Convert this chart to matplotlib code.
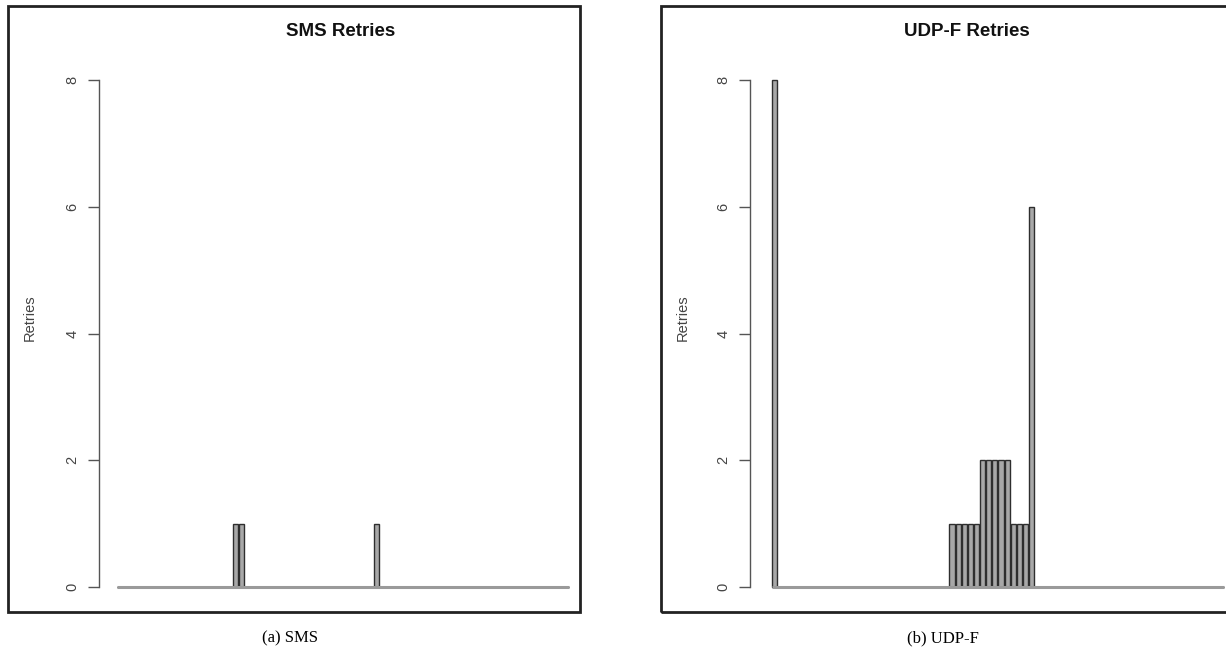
import numpy as np
import matplotlib
matplotlib.use("Agg")
import matplotlib.pyplot as plt
from matplotlib.patches import Rectangle

# retries per message, one bar each (74 messages per protocol)
n_msgs = 74
sms_idx = [19, 20, 42]
sms_val = [1, 1, 1]
udpf_idx = [0, 29, 30, 31, 32, 33, 34, 35, 36, 37, 38, 39, 40, 41, 42]
udpf_val = [8, 1, 1, 1, 1, 1, 2, 2, 2, 2, 2, 1, 1, 1, 6]

sms_retries = np.zeros(n_msgs)
sms_retries[sms_idx] = sms_val
udpf_retries = np.zeros(n_msgs)
udpf_retries[udpf_idx] = udpf_val

panels = [
    ("SMS Retries", "(a) SMS", sms_retries),
    ("UDP-F Retries", "(b) UDP-F", udpf_retries),
]
yticks = [0, 2, 4, 6, 8]

W, H = 1226, 661
fig = plt.figure(figsize=(W / 100, H / 100), dpi=100)

# pixel layout per panel: frame, axis x, first bar x, title x, caption x, ylabel x
layout = [
    dict(frame=(8, 580), axis_x=99, bar0=117, right=587, title_x=341, cap_x=290, ylab_x=30),
    dict(frame=(661, 1245), axis_x=750, bar0=772, right=1226, title_x=967, cap_x=943, ylab_x=683),
]
y0_px, y8_px = 587, 80
px_per_unit = 5.1

axis_col = "#555555"

for (title, caption, vals), lay in zip(panels, layout):
    # frame around each panel
    fx0, fx1 = lay["frame"]
    fig.add_artist(Rectangle((fx0 / W, 1 - 612 / H), (fx1 - fx0) / W, (612 - 6) / H,
                             transform=fig.transFigure, fill=False,
                             edgecolor="#222222", linewidth=2.0))

    ax = fig.add_axes([lay["axis_x"] / W, 1 - y0_px / H,
                       (lay["right"] - lay["axis_x"]) / W, (y0_px - y8_px) / H])
    x = 0.7 + 1.2 * np.arange(n_msgs)
    ax.bar(x, vals, width=1.0, color="#a8a8a8", edgecolor="#2e2e2e",
           linewidth=1.0, clip_on=False, zorder=2)
    # zero-height bars show up as a grey base line in the original
    ax.hlines(0, 0.2, x[-1] + 0.5, color="#9a9a9a", linewidth=2.2, zorder=3, clip_on=False)

    xl = 0.2 - (lay["bar0"] - lay["axis_x"]) / px_per_unit
    xr = 0.2 + (lay["right"] - lay["bar0"]) / px_per_unit
    ax.set_xlim(xl, xr)
    ax.set_ylim(0, 8)

    for s in ["top", "right", "bottom"]:
        ax.spines[s].set_visible(False)
    ax.spines["left"].set_bounds(0, 8)
    ax.spines["left"].set_color(axis_col)
    ax.spines["left"].set_linewidth(1.0)
    ax.set_xticks([])
    ax.set_yticks(yticks)
    ax.set_yticklabels([str(t) for t in yticks], rotation=90, va="center",
                       fontsize=10.5, color="#444444", family="Liberation Sans")
    ax.tick_params(axis="y", length=8, width=1.0, color=axis_col, pad=6)
    ax.patch.set_visible(False)

    fig.text(lay["title_x"] / W, 1 - 32 / H, title, ha="center", va="center",
             fontsize=13.5, fontweight="bold", family="Liberation Sans", color="#111111")
    fig.text(lay["ylab_x"] / W, 1 - 318 / H, "Retries", ha="center", va="center",
             rotation=90, fontsize=10.5, family="Liberation Sans", color="#444444")
    fig.text(lay["cap_x"] / W, 1 - 638 / H, caption, ha="center", va="center",
             fontsize=12, family="Liberation Serif", color="black")

fig.savefig("out.png", dpi=100)
